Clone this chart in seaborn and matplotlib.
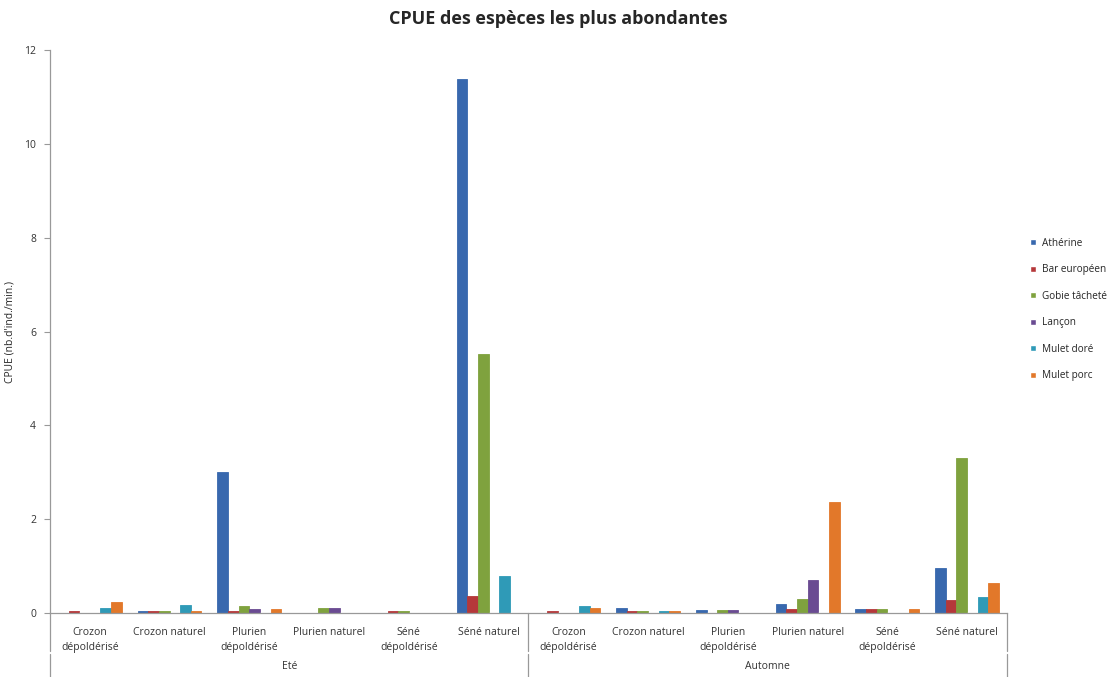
"""
CPUE des espèces les plus abondantes

Grouped bar chart of catch per unit effort (nb. d'ind./min.) for the six
most abundant species, per site and season (Eté / Automne).

Usage:
    python plot.py
"""

import matplotlib.pyplot as plt
import pandas as pd
import seaborn as sns


# Seasons and sites (two-level category axis)
SEASONS = ['Eté', 'Automne']
SITES = [
    'Crozon\ndépoldérisé', 'Crozon naturel', 'Plurien\ndépoldérisé',
    'Plurien naturel', 'Séné\ndépoldérisé', 'Séné naturel'
]

SPECIES = ['Athérine', 'Bar européen', 'Gobie tâcheté', 'Lançon', 'Mulet doré', 'Mulet porc']
COLORS = ['#3868AE', '#B5383A', '#7FA23E', '#6A4B92', '#2F9AB7', '#E2782A']

# CPUE per species, 12 values: 6 sites in Eté then 6 sites in Automne
atherine = [0.0, 0.05, 3.0, 0.0, 0.0, 11.38, 0.0, 0.1, 0.07, 0.2, 0.09, 0.95]
bar_europeen = [0.05, 0.05, 0.05, 0.0, 0.05, 0.37, 0.05, 0.05, 0.0, 0.09, 0.09, 0.28]
gobie_tachete = [0.0, 0.05, 0.16, 0.1, 0.05, 5.53, 0.0, 0.05, 0.07, 0.29, 0.09, 3.3]
lancon = [0.0, 0.0, 0.08, 0.1, 0.0, 0.0, 0.0, 0.0, 0.07, 0.7, 0.0, 0.0]
mulet_dore = [0.1, 0.18, 0.0, 0.0, 0.0, 0.78, 0.16, 0.05, 0.0, 0.0, 0.0, 0.34]
mulet_porc = [0.23, 0.05, 0.08, 0.0, 0.0, 0.0, 0.1, 0.05, 0.0, 2.37, 0.09, 0.65]

Y_TICKS = [0, 2, 4, 6, 8, 10, 12]


def build_dataframe():
    """Long-format table: one row per (season, site, species)."""
    series = [atherine, bar_europeen, gobie_tachete, lancon, mulet_dore, mulet_porc]
    keys = [f'{s}|{site}' for s in SEASONS for site in SITES]
    rows = []
    for name, values in zip(SPECIES, series):
        for key, v in zip(keys, values):
            rows.append({'groupe': key, 'espece': name, 'cpue': v})
    return pd.DataFrame(rows), keys


def main():
    df, order = build_dataframe()

    sns.set_style('white')
    plt.rcParams['font.family'] = ['Open Sans', 'DejaVu Sans']

    fig = plt.figure(figsize=(11.2, 6.77), dpi=100)
    ax = fig.add_axes([0.0446, 0.0945, 0.8545, 0.8315])

    sns.barplot(
        data=df, x='groupe', y='cpue', hue='espece',
        order=order, hue_order=SPECIES, palette=COLORS,
        width=0.8, saturation=1, ax=ax, errorbar=None
    )
    # thin outline so that tiny bars stay visible, as in Excel
    for patch in ax.patches:
        if patch.get_height() > 0:
            patch.set_edgecolor(patch.get_facecolor())
            patch.set_linewidth(0.6)

    # Axes styling (Excel-like)
    ax.set_ylim(0, 12)
    ax.set_xlim(-0.5, len(order) - 0.5)
    ax.set_yticks(Y_TICKS)
    ax.set_yticklabels([str(t) for t in Y_TICKS], fontsize=7.5, color='#333333')
    ax.tick_params(axis='y', length=4, width=0.8, color='#999999', direction='out', left=True, pad=6)
    ax.set_ylabel("CPUE (nb.d'ind./min.)", fontsize=7.5)
    ax.yaxis.set_label_coords(-0.036, 0.5)
    ax.set_xlabel('')
    for side in ['top', 'right']:
        ax.spines[side].set_visible(False)
    for side in ['left', 'bottom']:
        ax.spines[side].set_color('#999999')
        ax.spines[side].set_linewidth(0.9)

    # First level: site labels
    ax.set_xticks(range(len(order)))
    ax.set_xticklabels(SITES * len(SEASONS), fontsize=7.5, color='#333333', linespacing=1.5)
    ax.tick_params(axis='x', length=0, pad=10)

    # Second level: season labels and separator lines
    n = len(SITES)
    for i, season in enumerate(SEASONS):
        center = i * n + (n - 1) / 2
        ax.text(center, -1.15, season, ha='center', va='center', fontsize=7.5,
                color='#333333', clip_on=False)
    for xb in [-0.5, n - 0.5, 2 * n - 0.5]:
        for y0, y1 in [(0, -0.8), (-0.87, -1.37)]:
            ax.plot([xb, xb], [y0, y1], color='#999999', lw=0.9, clip_on=False)

    # Legend
    handles, labels = ax.get_legend_handles_labels()
    ax.legend(
        handles, labels, loc='upper left', bbox_to_anchor=(0.912, 0.662),
        bbox_transform=fig.transFigure, frameon=False, fontsize=7.2,
        handlelength=0.6, handleheight=0.6, handletextpad=0.6, labelspacing=1.55
    )

    fig.suptitle('CPUE des espèces les plus abondantes', x=0.498, y=0.985,
                 fontsize=13, fontweight='bold')

    fig.savefig('out.png', dpi=100)
    plt.close(fig)


if __name__ == '__main__':
    main()
